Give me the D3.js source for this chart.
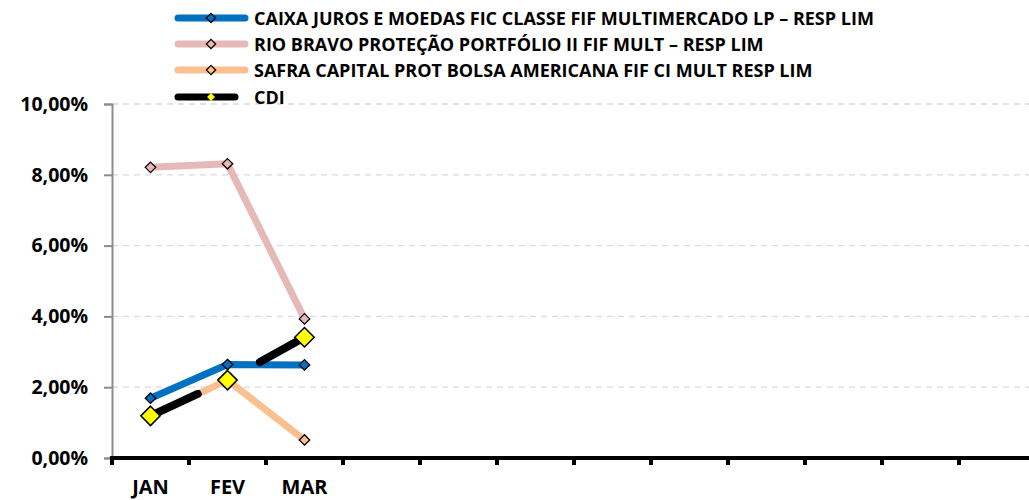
<!DOCTYPE html>
<html>
<head>
<meta charset="utf-8">
<script src="https://cdn.jsdelivr.net/npm/d3@7"></script>
<style>
  body { margin: 0; background: #fff; }
  svg { display: block; font-family: "Open Sans", sans-serif; font-weight: 700; }
</style>
</head>
<body>
<svg id="chart" width="1029" height="500"></svg>
<script>
const months = ["JAN", "FEV", "MAR", "ABR", "MAI", "JUN", "JUL", "AGO", "SET", "OUT", "NOV", "DEZ"];
const tickLabels = ["JAN", "FEV", "MAR", "", "", "", "", "", "", "", "", ""];
const yTicks = [0, 2, 4, 6, 8, 10];

const seriesNames = [
  "CAIXA JUROS E MOEDAS FIC CLASSE FIF MULTIMERCADO LP – RESP LIM",
  "RIO BRAVO PROTEÇÃO PORTFÓLIO II FIF MULT – RESP LIM",
  "SAFRA CAPITAL PROT BOLSA AMERICANA FIF CI MULT RESP LIM",
  "CDI"
];
const caixa = [1.69, 2.64, 2.63];
const rioBravo = [8.21, 8.31, 3.93];
const safra = [1.18, 2.2, 0.51];
const cdi = [1.19, 2.2, 3.41];

const colors = ["#0070C0", "#E6B9B8", "#FAC090", "#000000"];

const svg = d3.select("svg#chart");
const W = 1029;

const x = d3.scaleBand().domain(months).range([112, 1036]);
const y = d3.scaleLinear().domain([0, 10]).range([458, 104]);

// grid
svg.append("g")
  .selectAll("line")
  .data(yTicks.filter(d => d > 0))
  .join("line")
  .attr("x1", 112).attr("x2", W)
  .attr("y1", d => y(d)).attr("y2", d => y(d))
  .attr("stroke", "#D9D9D9")
  .attr("stroke-width", 1.3)
  .attr("stroke-dasharray", "6,5");

// y axis
const yAxis = svg.append("g")
  .attr("transform", "translate(112,0)")
  .call(d3.axisLeft(y).tickValues(yTicks).tickSize(8).tickPadding(16)
    .tickFormat(d => d3.format(".2f")(d).replace(".", ",") + "%"));
yAxis.select(".domain").attr("stroke", "#8C8C8C").attr("stroke-width", 2);
yAxis.selectAll(".tick line").attr("stroke", "#8C8C8C").attr("stroke-width", 2);
yAxis.selectAll("text").attr("fill", "#000").style("font-size", "19.5px")
  .style("font-family", "'Open Sans', sans-serif").style("font-weight", 700);

// x axis
const xAxis = svg.append("g").attr("transform", "translate(0,458)");
xAxis.append("line")
  .attr("x1", 110).attr("x2", W)
  .attr("stroke", "#000").attr("stroke-width", 4);
xAxis.selectAll(".xtick")
  .data(months)
  .join("line")
  .attr("class", "xtick")
  .attr("x1", d => x(d)).attr("x2", d => x(d))
  .attr("y1", 0).attr("y2", 7)
  .attr("stroke", "#000").attr("stroke-width", 4);
xAxis.selectAll(".xlabel")
  .data(months)
  .join("text")
  .attr("class", "xlabel")
  .attr("x", d => x(d) + x.bandwidth() / 2)
  .attr("y", 36)
  .attr("text-anchor", "middle")
  .style("font-size", "20px")
  .text((d, i) => tickLabels[i]);

const cx = (d, i) => x(months[i]) + x.bandwidth() / 2;
const line = d3.line().x(cx).y(d => y(d));

const diamond = d3.symbol().type(d3.symbolDiamond2);

const series = [caixa, rioBravo, safra, cdi];

series.forEach((vals, s) => {
  const g = svg.append("g");
  const path = g.append("path")
    .datum(vals)
    .attr("d", line)
    .attr("fill", "none")
    .attr("stroke", colors[s])
    .attr("stroke-width", s === 3 ? 8 : 7)
    .attr("stroke-linejoin", "round");
  if (s === 3) {
    path.attr("stroke-linecap", "round").attr("stroke-dasharray", "52,70");
  }
  g.selectAll("path.mk")
    .data(vals)
    .join("path")
    .attr("class", "mk")
    .attr("transform", (d, i) => `translate(${cx(d, i)},${y(d)})`)
    .attr("d", diamond.size(s === 3 ? 240 : 70))
    .attr("fill", s === 3 ? "#FFFF00" : colors[s])
    .attr("stroke", "#000")
    .attr("stroke-width", s === 3 ? 1.5 : 1.3);
});

// legend
const legend = svg.append("g");
const legendY = [18, 44, 70, 97];
seriesNames.forEach((name, i) => {
  const g = legend.append("g").attr("transform", `translate(0,${legendY[i]})`);
  g.append("line")
    .attr("x1", 178).attr("x2", i === 3 ? 235 : 245)
    .attr("stroke", colors[i])
    .attr("stroke-width", 7)
    .attr("stroke-linecap", "round");
  g.append("path")
    .attr("transform", "translate(211,0)")
    .attr("d", diamond.size(i === 3 ? 40 : 55))
    .attr("fill", i === 3 ? "#FFFF00" : colors[i])
    .attr("stroke", i === 3 ? "none" : "#000")
    .attr("stroke-width", 1.3);
  g.append("text")
    .attr("x", 254)
    .attr("y", 7)
    .style("font-size", "18px")
    .text(name);
});
</script>
</body>
</html>
